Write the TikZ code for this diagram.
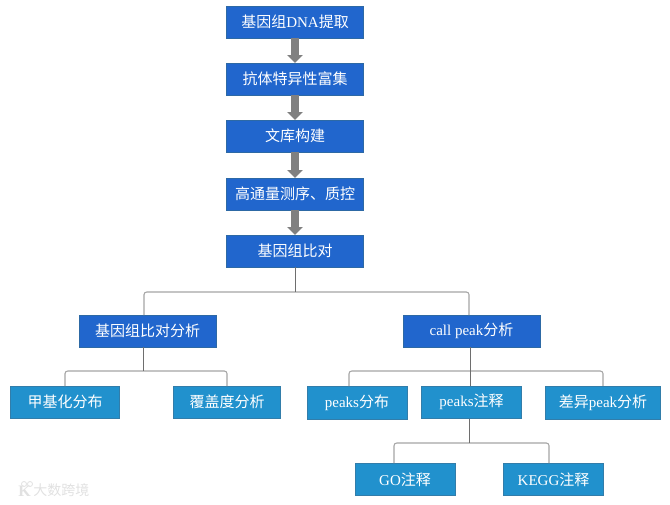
\documentclass[tikz,border=0pt]{standalone}
\usepackage{fontspec}
\setmainfont{Liberation Serif}
\newfontfamily\cjk{Noto Sans CJK SC}
\newcommand{\zh}[1]{{\cjk #1}}
\usepackage{xcolor}
\usepackage{tikz}
\usetikzlibrary{arrows.meta,positioning}
\definecolor{stepblue}{RGB}{33,102,205}
\definecolor{stepedge}{RGB}{45,105,165}
\definecolor{leafblue}{RGB}{33,145,205}
\definecolor{leafedge}{RGB}{50,125,170}
\definecolor{arrowgray}{RGB}{128,128,128}
\definecolor{trunkgray}{RGB}{110,110,110}
\definecolor{busgray}{RGB}{165,165,165}
\definecolor{markgray}{RGB}{225,225,225}
\tikzset{
  stepbox/.style={draw=stepedge, fill=stepblue, text=white, align=center,
                  minimum width=102.5pt, minimum height=24pt, inner sep=0pt,
                  outer sep=0pt, line width=0.5pt,
                  font=\fontsize{11.25}{13}\selectfont},
  leafbox/.style={stepbox, draw=leafedge, fill=leafblue, minimum width=75pt},
  blockarrow/.style={-{Triangle[length=6pt,width=11.5pt]}, line width=6.5pt, draw=arrowgray},
  trunk/.style={draw=trunkgray, line width=0.6pt},
  bus/.style={draw=busgray, line width=0.8pt, rounded corners=2pt},
  markfont/.style={text=markgray, inner sep=0pt, font=\fontsize{10.5}{12}\selectfont}
}
\begin{document}
\begin{tikzpicture}[x=0.75pt, y=-0.75pt, node distance=18.75pt]
  \useasboundingbox (0,0) rectangle (670,504);
  % main column
  \node[stepbox] (dna) at (295,22) {\zh{基因组}DNA\zh{提取}};
  \node[stepbox, below=of dna] (enrich) {\zh{抗体特异性富集}};
  \node[stepbox, below=of enrich] (library) {\zh{文库构建}};
  \node[stepbox, below=of library, yshift=-0.75pt] (seq) {\zh{高通量测序、质控}};
  \node[stepbox, below=of seq] (align) {\zh{基因组比对}};
  \draw[blockarrow] (dna)--(enrich); \draw[blockarrow] (enrich)--(library);
  \draw[blockarrow] (library)--(seq); \draw[blockarrow] (seq)--(align);
  % two branches
  \node[stepbox] (alignana) at (147.5,331) {\zh{基因组比对分析}};
  \node[stepbox] (peakana) at (471.5,331) {call peak\zh{分析}};
  \node[leafbox, minimum width=82pt] (methyl) at (65,402) {\zh{甲基化分布}};
  \node[leafbox, minimum width=80.5pt] (cover) at (227,402) {\zh{覆盖度分析}};
  \node[leafbox, minimum height=25pt] (peakdist) at (357,402.5) {peaks\zh{分布}};
  \node[leafbox] (peaknote) at (471.5,402) {peaks\zh{注释}};
  \node[leafbox, minimum width=86.5pt, minimum height=25pt] (diffpeak) at (603,402.5) {\zh{差异}peak\zh{分析}};
  \node[leafbox] (go) at (405,479.5) {GO\zh{注释}};
  \node[leafbox] (kegg) at (553.5,479.5) {KEGG\zh{注释}};
  % tree lines
  \coordinate (aligntap) at (295,292);
  \coordinate (alignanatop) at (144,315);
  \coordinate (peakanatop) at (469,315);
  \coordinate (alignanaout) at (143,347);
  \coordinate (alignanatap) at (143,371);
  \coordinate (peakdisttop) at (349,386);
  \coordinate (peaknotetop) at (470,386);
  \coordinate (peaknoteout) at (469,419);
  \coordinate (peaknotetap) at (469,443);
  \coordinate (gotop) at (394,463);
  \coordinate (keggtop) at (549,463);
  \draw[bus] (alignanatop) |- (aligntap) -| (peakanatop);
  \draw[trunk] (align.south -| aligntap) -- (aligntap);
  \draw[bus] (methyl.north) |- (alignanatap) -| (cover.north);
  \draw[trunk] (alignanaout) -- (alignanatap);
  \draw[bus] (peakdisttop) |- (470,371) -| (diffpeak.north);
  \draw[trunk] (peakana.south -| peaknotetop) -- (peaknotetop);
  \draw[bus] (gotop) |- (peaknotetap) -| (keggtop);
  \draw[trunk] (peaknoteout) -- (peaknotetap);
  % corner mark
  \node[markfont, anchor=west] (mark) at (33,490.5) {\zh{大数跨境}};
  \node[markfont, anchor=east, font=\fontsize{12}{12}\selectfont\bfseries] (logo) at (31,491) {K};
  \draw[markgray, line width=0.6pt] (24,484) circle (2.5) (30,484) circle (2.5);
\end{tikzpicture}
\end{document}
